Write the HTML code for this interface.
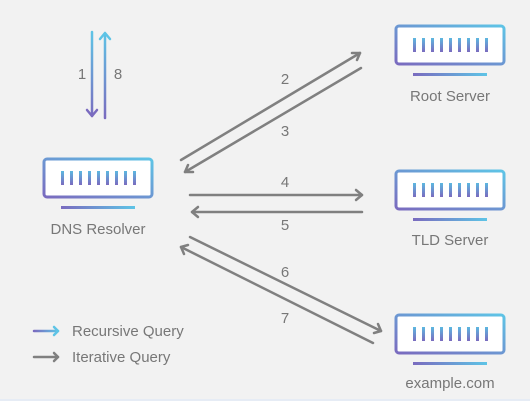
<!DOCTYPE html>
<html><head><meta charset="utf-8"><style>
html,body{margin:0;padding:0;background:#f2f2f2;}
svg{display:block;}
text{font-family:"Liberation Sans",sans-serif;fill:#777;}
</style></head><body>
<svg width="530" height="401" viewBox="0 0 530 401" xmlns="http://www.w3.org/2000/svg">
<defs>
<linearGradient id="bx" x1="0" y1="1" x2="1" y2="0">
<stop offset="0" stop-color="#7a6bbf"/><stop offset="1" stop-color="#5ec4e6"/></linearGradient>
<linearGradient id="bar" x1="0" y1="0" x2="0" y2="1">
<stop offset="0" stop-color="#5cb8e0"/><stop offset="1" stop-color="#7a6bbf"/></linearGradient>
<linearGradient id="hb" x1="0" y1="0" x2="1" y2="0">
<stop offset="0" stop-color="#7a6bbf"/><stop offset="1" stop-color="#5ec4e6"/></linearGradient>
<linearGradient id="lg" x1="34" y1="0" x2="58" y2="0" gradientUnits="userSpaceOnUse">
<stop offset="0" stop-color="#7a6bbf"/><stop offset="1" stop-color="#5ec4e6"/></linearGradient>
<linearGradient id="vd" x1="0" y1="32" x2="0" y2="118" gradientUnits="userSpaceOnUse">
<stop offset="0" stop-color="#5ec4e6"/><stop offset="1" stop-color="#7a6bbf"/></linearGradient>
<g id="srv">
<rect x="-54" y="-19" width="108" height="38" rx="3" fill="#fff" stroke="url(#bx)" stroke-width="3"/>
<g fill="url(#bar)">
<rect x="-37" y="-7" width="3" height="14"/><rect x="-28" y="-7" width="3" height="14"/>
<rect x="-19" y="-7" width="3" height="14"/><rect x="-10" y="-7" width="3" height="14"/>
<rect x="-1" y="-7" width="3" height="14"/><rect x="8" y="-7" width="3" height="14"/>
<rect x="17" y="-7" width="3" height="14"/><rect x="26" y="-7" width="3" height="14"/>
<rect x="35" y="-7" width="3" height="14"/>
</g>
<rect x="-37" y="28" width="74" height="3" fill="url(#hb)"/>
</g>
</defs>
<rect x="0" y="399" width="530" height="2" fill="#e6ecf5"/>
<use href="#srv" x="98" y="178"/>
<use href="#srv" x="450" y="45"/>
<use href="#srv" x="450" y="190"/>
<use href="#srv" x="450" y="334"/>
<g font-size="15" text-anchor="middle">
<text x="98" y="234">DNS Resolver</text>
<text x="450" y="101">Root Server</text>
<text x="450" y="245">TLD Server</text>
<text x="450" y="388">example.com</text>
</g>
<g stroke-width="2.5" fill="none" stroke-linecap="round" stroke-linejoin="round">
<line x1="92" y1="32" x2="92" y2="116" stroke="url(#vd)"/>
<polyline points="87,110 92,116 97,110" stroke="#7a6bbf"/>
<line x1="105" y1="34" x2="105" y2="118" stroke="url(#vd)"/>
<polyline points="100,39 105,33 110,39" stroke="#5ec4e6"/>
</g>
<g font-size="15" text-anchor="middle">
<text x="82" y="79">1</text><text x="118" y="79">8</text>
</g>
<g stroke="#808080" stroke-width="2.5" fill="none" stroke-linecap="round" stroke-linejoin="round">
<line x1="181" y1="160" x2="360" y2="53"/><polyline points="352,53 360,53 357,60"/>
<line x1="361" y1="68" x2="185" y2="172"/><polyline points="193,172 185,172 188,165"/>
<line x1="190" y1="195" x2="362" y2="195"/><polyline points="356,190 362,195 356,200"/>
<line x1="362" y1="212" x2="192" y2="212"/><polyline points="198,207 192,212 198,217"/>
<line x1="190" y1="237" x2="381" y2="331"/><polyline points="374,333 381,331 378,324"/>
<line x1="373" y1="343" x2="181" y2="247"/><polyline points="188,245 181,247 184,254"/>
<line x1="34" y1="357" x2="58" y2="357"/><polyline points="54,353 58,357 54,361"/>
</g>
<g stroke-width="2.5" fill="none" stroke-linecap="round" stroke-linejoin="round">
<line x1="34" y1="331" x2="58" y2="331" stroke="url(#lg)"/>
<polyline points="54,327 58,331 54,335" stroke="#5ec4e6"/>
</g>
<g font-size="15" text-anchor="middle">
<text x="285" y="84">2</text><text x="285" y="136">3</text>
<text x="285" y="187">4</text><text x="285" y="230">5</text>
<text x="285" y="277">6</text><text x="285" y="323">7</text>
</g>
<g font-size="15">
<text x="72" y="336">Recursive Query</text>
<text x="72" y="362">Iterative Query</text>
</g>
</svg>
</body></html>
